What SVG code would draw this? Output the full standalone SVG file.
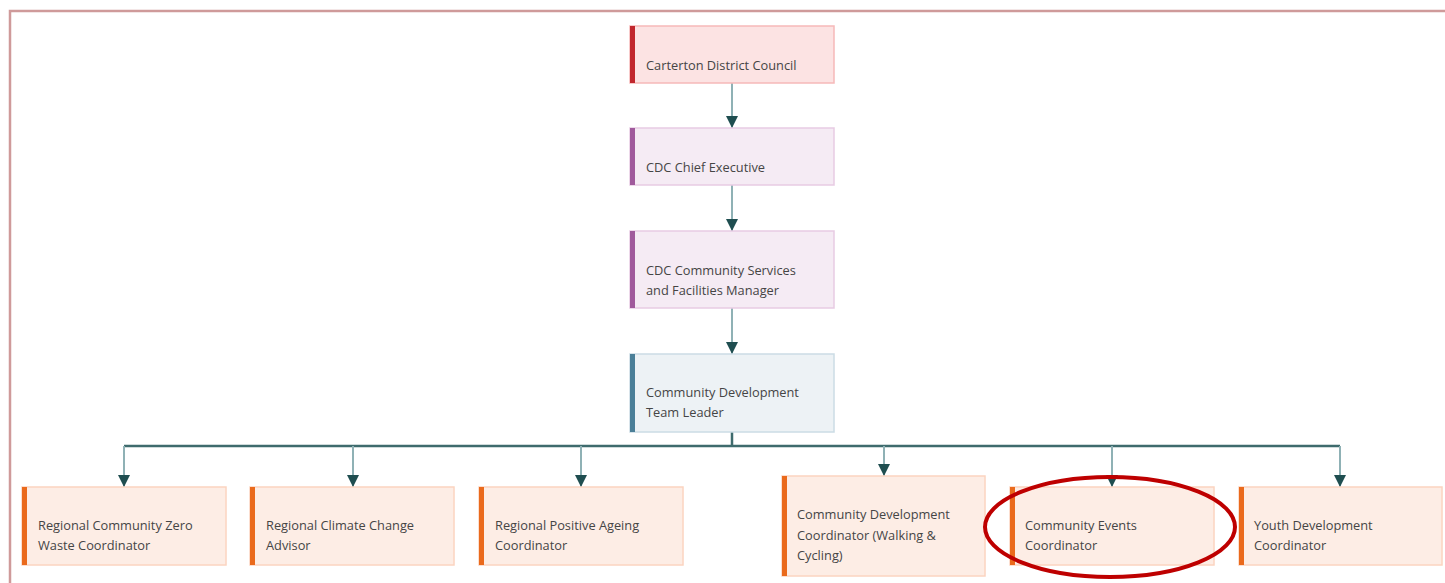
<svg xmlns="http://www.w3.org/2000/svg" width="1445" height="583" viewBox="0 0 1445 583">
<defs>
<style>
.t{font-family:"Open Sans","Noto Sans","Liberation Sans",sans-serif;font-size:12.8px;fill:#454545}
.red rect.b{fill:#fce3e3;stroke:#f6b9b9;stroke-width:1.5}
.red rect.a{fill:#c1272d}
.pur rect.b{fill:#f5ebf4;stroke:#e7cbe3;stroke-width:1.5}
.pur rect.a{fill:#a05a9c}
.blu rect.b{fill:#edf2f5;stroke:#cbdce5;stroke-width:1.5}
.blu rect.a{fill:#4b7f98}
.org rect.b{fill:#fdede5;stroke:#fbd4c0;stroke-width:1.5}
.org rect.a{fill:#ea6a1c}
.c{fill:none;stroke:#8fb1b5;stroke-width:2}
.m{fill:none;stroke:#3e6b6d;stroke-width:2.5}
</style>
<marker id="ah" viewBox="0 0 10 10" refX="10" refY="5" markerWidth="12" markerHeight="12" markerUnits="userSpaceOnUse" orient="auto">
<path d="M0,0 L10,5 L0,10 z" fill="#1f4e50"/>
</marker>
</defs>
<rect width="1445" height="583" fill="#ffffff"/>
<path d="M10,583 V11 H1445" fill="none" stroke="#cf9a9a" stroke-width="2.5"/>

<g id="connectors">
<line class="c" x1="732" y1="83" x2="732" y2="128" marker-end="url(#ah)"/>
<line class="c" x1="732" y1="185" x2="732" y2="231" marker-end="url(#ah)"/>
<line class="c" x1="732" y1="308" x2="732" y2="354" marker-end="url(#ah)"/>
<line class="m" x1="732" y1="432" x2="732" y2="446" stroke-width="3"/>
<line class="m" x1="124" y1="446" x2="1340" y2="446"/>
<line class="c" x1="124" y1="446" x2="124" y2="487" marker-end="url(#ah)"/>
<line class="c" x1="353" y1="446" x2="353" y2="487" marker-end="url(#ah)"/>
<line class="c" x1="581" y1="446" x2="581" y2="487" marker-end="url(#ah)"/>
<line class="c" x1="884" y1="446" x2="884" y2="476" marker-end="url(#ah)"/>
<line class="c" x1="1112" y1="446" x2="1112" y2="487" marker-end="url(#ah)"/>
<line class="c" x1="1340" y1="446" x2="1340" y2="487" marker-end="url(#ah)"/>
</g>

<g id="n1" class="red">
<rect class="b" x="630" y="26" width="204" height="57"/>
<rect class="a" x="630" y="26" width="5" height="57"/>
<text class="t" x="646" y="70">Carterton District Council</text>
</g>
<g id="n2" class="pur">
<rect class="b" x="630" y="128" width="204" height="57"/>
<rect class="a" x="630" y="128" width="5" height="57"/>
<text class="t" x="646" y="172">CDC Chief Executive</text>
</g>
<g id="n3" class="pur">
<rect class="b" x="630" y="231" width="204" height="77"/>
<rect class="a" x="630" y="231" width="5" height="77"/>
<text class="t" x="646" y="275">CDC Community Services</text>
<text class="t" x="646" y="295">and Facilities Manager</text>
</g>
<g id="n4" class="blu">
<rect class="b" x="630" y="354" width="204" height="78"/>
<rect class="a" x="630" y="354" width="5" height="78"/>
<text class="t" x="646" y="397">Community Development</text>
<text class="t" x="646" y="417">Team Leader</text>
</g>
<g id="n5" class="org">
<rect class="b" x="22" y="487" width="204" height="78"/>
<rect class="a" x="22" y="487" width="5" height="78"/>
<text class="t" x="38" y="530">Regional Community Zero</text>
<text class="t" x="38" y="550">Waste Coordinator</text>
</g>
<g id="n6" class="org">
<rect class="b" x="250" y="487" width="204" height="78"/>
<rect class="a" x="250" y="487" width="5" height="78"/>
<text class="t" x="266" y="530">Regional Climate Change</text>
<text class="t" x="266" y="550">Advisor</text>
</g>
<g id="n7" class="org">
<rect class="b" x="479" y="487" width="204" height="78"/>
<rect class="a" x="479" y="487" width="5" height="78"/>
<text class="t" x="495" y="530">Regional Positive Ageing</text>
<text class="t" x="495" y="550">Coordinator</text>
</g>
<g id="n8" class="org">
<rect class="b" x="782" y="476" width="203" height="100"/>
<rect class="a" x="782" y="476" width="5" height="100"/>
<text class="t" x="797" y="519">Community Development</text>
<text class="t" x="797" y="540">Coordinator (Walking &amp;</text>
<text class="t" x="797" y="560">Cycling)</text>
</g>
<g id="n9" class="org">
<rect class="b" x="1010" y="487" width="204" height="78"/>
<rect class="a" x="1010" y="487" width="5" height="78"/>
<text class="t" x="1025" y="530">Community Events</text>
<text class="t" x="1025" y="550">Coordinator</text>
</g>
<g id="n10" class="org">
<rect class="b" x="1239" y="487" width="203" height="78"/>
<rect class="a" x="1239" y="487" width="5" height="78"/>
<text class="t" x="1254" y="530">Youth Development</text>
<text class="t" x="1254" y="550">Coordinator</text>
</g>
<ellipse id="highlight" cx="1110" cy="527" rx="125" ry="50" fill="none" stroke="#be0000" stroke-width="4"/>
</svg>
